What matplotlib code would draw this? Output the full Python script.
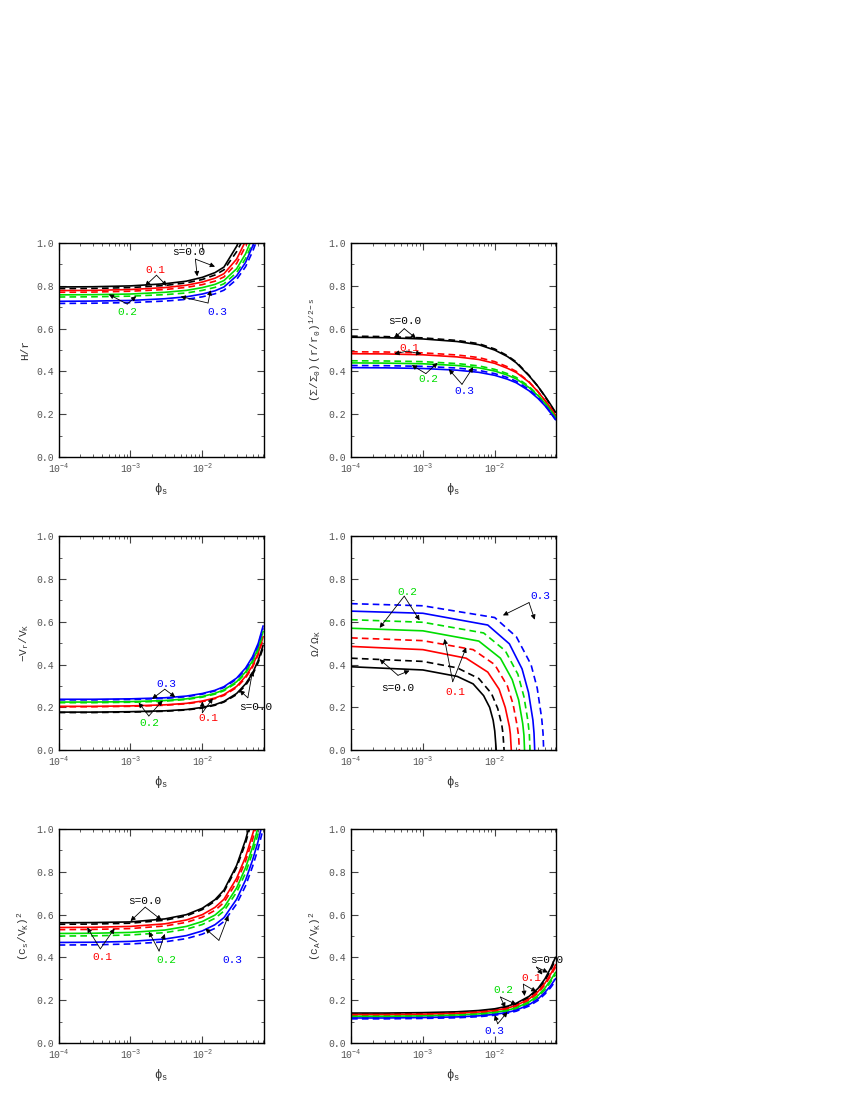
import matplotlib
matplotlib.use('Agg')
import matplotlib.pyplot as plt
from matplotlib.ticker import FormatStrFormatter, MultipleLocator

plt.rcParams['font.family'] = ['Liberation Mono', 'DejaVu Sans']
plt.rcParams['mathtext.fontset'] = 'custom'
plt.rcParams['mathtext.rm'] = 'Liberation Mono'
plt.rcParams['mathtext.it'] = 'Liberation Mono'

colors = ['black', '#ff0000', '#00dd00', '#0000ff']

# shared x grid for the smooth curves
phi = [1e-4, 3e-4, 1e-3, 3e-3, 6e-3, 1e-2, 1.5e-2, 2e-2, 3e-2, 4e-2, 5e-2, 6e-2, 7e-2]

# H/r  (solid, dashed) for s=0.0,0.1,0.2,0.3
hr_solid = [
    [.795, .796, .800, .810, .822, .840, .862, .888, .985, 1.08, 1.18, 1.27, 1.36],
    [.778, .779, .783, .792, .803, .818, .836, .857, .925, 1.01, 1.09, 1.17, 1.25],
    [.758, .759, .762, .770, .779, .792, .807, .825, .880, .950, 1.03, 1.10, 1.18],
    [.728, .729, .732, .740, .749, .762, .777, .795, .847, .910, .985, 1.06, 1.13]]
hr_dash = [
    [.787, .788, .792, .802, .814, .830, .851, .875, .960, 1.04, 1.14, 1.22, 1.31],
    [.770, .771, .775, .783, .793, .806, .822, .842, .905, .985, 1.06, 1.14, 1.22],
    [.748, .749, .752, .759, .767, .779, .793, .810, .862, .928, 1.00, 1.07, 1.15],
    [.718, .719, .722, .729, .737, .749, .763, .780, .830, .890, .960, 1.03, 1.10]]

# (Sigma/Sigma0)(r/r0)^(1/2-s)
sig_solid = [
    [.560, .558, .552, .540, .525, .500, .470, .440, .380, .330, .285, .245, .210],
    [.483, .482, .478, .468, .456, .438, .415, .395, .350, .305, .265, .230, .195],
    [.440, .439, .436, .428, .417, .402, .383, .365, .325, .287, .252, .218, .185],
    [.418, .417, .414, .406, .396, .382, .364, .347, .310, .274, .240, .206, .175]]
sig_dash = [
    [.565, .563, .557, .545, .530, .505, .474, .444, .382, .330, .283, .242, .205],
    [.492, .491, .487, .477, .465, .446, .422, .400, .352, .306, .265, .228, .192],
    [.450, .449, .446, .437, .426, .410, .390, .372, .330, .290, .253, .218, .184],
    [.428, .427, .424, .416, .405, .390, .372, .354, .316, .278, .243, .208, .176]]

# -V_r/V_K
vr_solid = [
    [.178, .178, .180, .184, .190, .200, .213, .228, .265, .310, .360, .420, .490],
    [.205, .205, .207, .212, .219, .230, .244, .260, .298, .345, .395, .455, .530],
    [.225, .225, .227, .232, .240, .251, .266, .282, .320, .366, .418, .478, .555],
    [.238, .238, .240, .245, .253, .265, .280, .297, .337, .384, .437, .500, .580]]
vr_dash = [
    [.176, .176, .178, .182, .188, .197, .210, .225, .260, .303, .352, .410, .478],
    [.203, .203, .205, .210, .217, .227, .241, .256, .293, .338, .388, .446, .518],
    [.222, .222, .224, .229, .237, .248, .262, .278, .315, .360, .411, .470, .545],
    [.235, .235, .237, .242, .250, .262, .277, .293, .332, .378, .430, .492, .570]]

# Omega/Omega_K, each curve ends at its own phi
om_x_solid = [
    [1e-4, 1e-3, 3e-3, 5e-3, 7e-3, 8.5e-3, 9.5e-3, 1.0e-2, 1.05e-2],
    [1e-4, 1e-3, 4e-3, 8e-3, 1.15e-2, 1.4e-2, 1.6e-2, 1.65e-2, 1.7e-2],
    [1e-4, 1e-3, 6e-3, 1.2e-2, 1.75e-2, 2.15e-2, 2.45e-2, 2.55e-2, 2.6e-2],
    [1e-4, 1e-3, 8e-3, 1.6e-2, 2.4e-2, 2.95e-2, 3.4e-2, 3.52e-2, 3.6e-2]]
om_y_solid = [
    [.390, .375, .345, .310, .255, .200, .140, .090, 0],
    [.485, .470, .430, .365, .285, .200, .110, .075, 0],
    [.570, .558, .510, .430, .330, .235, .125, .070, 0],
    [.650, .640, .585, .497, .380, .270, .140, .080, 0]]
om_x_dash = [
    [1e-4, 1e-3, 3e-3, 6e-3, 9e-3, 1.1e-2, 1.25e-2, 1.3e-2, 1.35e-2],
    [1e-4, 1e-3, 5e-3, 1e-2, 1.5e-2, 1.8e-2, 2.05e-2, 2.15e-2, 2.2e-2],
    [1e-4, 1e-3, 7e-3, 1.4e-2, 2.1e-2, 2.55e-2, 2.9e-2, 3.03e-2, 3.1e-2],
    [1e-4, 1e-3, 1e-2, 2e-2, 3.2e-2, 3.9e-2, 4.5e-2, 4.7e-2, 4.8e-2]]
om_y_dash = [
    [.430, .415, .385, .335, .265, .195, .120, .080, 0],
    [.525, .512, .470, .400, .300, .215, .115, .065, 0],
    [.610, .598, .548, .465, .355, .250, .135, .075, 0],
    [.685, .675, .620, .530, .400, .290, .150, .080, 0]]

# (c_s/V_K)^2
cs_solid = [
    [.562, .563, .566, .580, .600, .630, .670, .715, .830, .950, 1.07, 1.18, 1.30],
    [.540, .541, .545, .557, .575, .600, .634, .672, .770, .870, .975, 1.07, 1.17],
    [.512, .513, .517, .528, .545, .568, .598, .634, .725, .820, .915, 1.01, 1.10],
    [.470, .471, .475, .486, .502, .524, .553, .586, .672, .762, .855, .945, 1.04]]
cs_dash = [
    [.555, .556, .560, .574, .594, .624, .663, .707, .820, .935, 1.05, 1.16, 1.28],
    [.530, .531, .535, .547, .564, .588, .620, .657, .752, .850, .950, 1.05, 1.14],
    [.500, .501, .505, .516, .532, .554, .583, .617, .705, .795, .890, .980, 1.07],
    [.458, .459, .463, .473, .488, .509, .536, .568, .650, .735, .825, .910, 1.00]]

# (c_A/V_K)^2
ca_solid = [
    [.140, .140, .142, .146, .152, .160, .172, .186, .218, .255, .300, .350, .400],
    [.133, .133, .135, .139, .145, .152, .163, .176, .206, .240, .280, .322, .365],
    [.125, .125, .127, .131, .136, .143, .153, .165, .192, .222, .257, .294, .330],
    [.117, .117, .119, .122, .127, .134, .143, .154, .179, .206, .237, .268, .300]]
ca_dash = [
    [.136, .136, .138, .142, .148, .156, .168, .181, .212, .248, .291, .340, .390],
    [.129, .129, .131, .135, .141, .148, .158, .171, .200, .233, .272, .313, .355],
    [.121, .121, .123, .127, .132, .139, .149, .160, .186, .215, .249, .285, .320],
    [.113, .113, .115, .118, .123, .130, .139, .149, .173, .199, .229, .259, .290]]

labels = ['s=0.0', '0.1', '0.2', '0.3']

# label annotations: (text position, arrow origin, [two arrow targets]) per curve family
notes = [
    [((6.5e-3, .96), (8e-3, .925), [(8.5e-3, .845), (1.5e-2, .89)]),
     ((2.2e-3, .875), (2.3e-3, .85), [(1.6e-3, .80), (3.2e-3, .80)]),
     ((9e-4, .68), (9e-4, .715), [(5e-4, .76), (1.2e-3, .752)]),
     ((1.6e-2, .68), (1.2e-2, .72), [(5e-3, .75), (1.3e-2, .78)])],
    [((5.5e-4, .635), (5.5e-4, .60), [(4e-4, .556), (8e-4, .555)]),
     ((6.5e-4, .51), (6e-4, .495), [(4e-4, .482), (9.5e-4, .482)]),
     ((1.2e-3, .365), (1.1e-3, .39), [(7e-4, .43), (1.6e-3, .44)]),
     ((3.8e-3, .31), (3.5e-3, .34), [(2.3e-3, .41), (5e-3, .42)])],
    [((3.2e-3, .31), (3e-3, .285), [(2e-3, .24), (4.2e-3, .248)]),
     ((1.8e-3, .125), (1.8e-3, .16), [(1.3e-3, .222), (2.8e-3, .232)]),
     ((1.2e-2, .15), (1e-2, .175), [(1e-2, .228), (1.4e-2, .243)])[::-1][::-1],
     ((5.5e-2, .2), (4.3e-2, .245), [(3.3e-2, .28), (5e-2, .37)])],
    [((4.5e-4, .29), (4.5e-4, .35), [(2.5e-4, .425), (6.5e-4, .372)]),
     ((2.8e-3, .27), (2.6e-3, .32), [(2e-3, .52), (4e-3, .48)]),
     ((6e-4, .74), (5.5e-4, .72), [(2.5e-4, .572), (9e-4, .607)]),
     ((4.3e-2, .72), (3e-2, .69), [(1.3e-2, .63), (3.6e-2, .61)])],
    [((1.6e-3, .665), (1.6e-3, .635), [(1e-3, .57), (2.7e-3, .575)]),
     ((4e-4, .40), (3.8e-4, .44), [(2.5e-4, .54), (6e-4, .535)]),
     ((3.2e-3, .39), (2.5e-3, .43), [(1.8e-3, .52), (3e-3, .51)]),
     ((2.6e-2, .39), (1.7e-2, .48), [(1.1e-2, .535), (2.3e-2, .595)])],
    [((5.2e-2, .39), (3.8e-2, .355), [(4.6e-2, .32), (5.5e-2, .33)]),
     ((3.2e-2, .305), (2.5e-2, .275), [(2.6e-2, .22), (3.8e-2, .24)]),
     ((1.3e-2, .25), (1.2e-2, .215), [(1.4e-2, .165), (2e-2, .18)]),
     ((1e-2, .055), (1.1e-2, .09), [(1e-2, .13), (1.5e-2, .145)])],
]
label_order = [
    [0, 1, 2, 3], [0, 1, 2, 3], [3, 2, 1, 0], [0, 1, 2, 3], [0, 1, 2, 3], [0, 1, 2, 3]]

ylabels = ['H/r', r'$(\Sigma/\Sigma_0)\,(r/r_0)^{1/2-s}$', r'$-V_r/V_K$',
           r'$\Omega/\Omega_K$', r'$(c_s/V_K)^2$', r'$(c_A/V_K)^2$']

fig = plt.figure(figsize=(8.5, 11), dpi=100)
lefts = [0.069, 0.413]
bottoms = [0.5845, 0.318, 0.0518]
axes = []
for r in range(3):
    for c in range(2):
        axes.append(fig.add_axes([lefts[c], bottoms[r], 0.241, 0.1945]))

smooth = [(hr_solid, hr_dash), (sig_solid, sig_dash), (vr_solid, vr_dash),
          None, (cs_solid, cs_dash), (ca_solid, ca_dash)]

for i, ax in enumerate(axes):
    for k in range(4):
        if i == 3:
            ax.plot(om_x_solid[k], om_y_solid[k], color=colors[k], lw=1.2)
            ax.plot(om_x_dash[k], om_y_dash[k], color=colors[k], lw=1.2, ls=(0, (4, 2.5)))
        else:
            ax.plot(phi, smooth[i][0][k], color=colors[k], lw=1.2)
            ax.plot(phi, smooth[i][1][k], color=colors[k], lw=1.2, ls=(0, (4, 2.5)))
    for j, (txt, org, tgts) in enumerate(notes[i]):
        k = label_order[i][j]
        ax.text(txt[0], txt[1], labels[k], color=colors[k], fontsize=8,
                ha='center', va='center')
        for t in tgts:
            ax.annotate('', xy=t, xytext=org,
                        arrowprops=dict(arrowstyle='-|>', color='black', lw=0.6,
                                        mutation_scale=7, shrinkA=0, shrinkB=0))
    ax.set_xscale('log')
    ax.set_xlim(1e-4, 7.1e-2)
    ax.set_ylim(0, 1)
    ax.yaxis.set_major_locator(MultipleLocator(0.2))
    ax.yaxis.set_minor_locator(MultipleLocator(0.1))
    ax.yaxis.set_major_formatter(FormatStrFormatter('%.1f'))
    ax.tick_params(which='both', direction='in', top=True, right=True, labelsize=7,
                   colors='#444444', labelcolor='#555555')
    ax.tick_params(which='major', length=5)
    ax.tick_params(which='minor', length=2.5)
    ax.set_ylabel(ylabels[i], fontsize=8, color='#333333')
    ax.set_xlabel(r'$\phi_s$', fontsize=9, color='#333333')
    for sp in ax.spines.values():
        sp.set_linewidth(1.0)

plt.savefig('out.png', dpi=100)
